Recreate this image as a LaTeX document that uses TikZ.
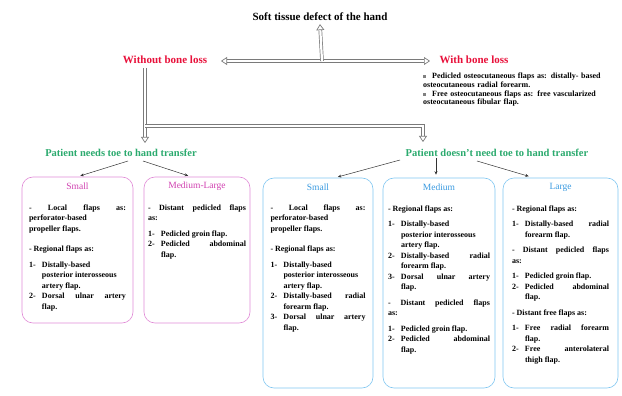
\documentclass[tikz,border=0pt]{standalone}
\usepackage{fontspec}
\setmainfont{Liberation Serif}
\usetikzlibrary{arrows.meta,calc}
\definecolor{lossred}{HTML}{E8103A}
\definecolor{needgreen}{HTML}{2BAA6E}
\definecolor{pinkline}{HTML}{E08AD6}
\definecolor{pinktitle}{HTML}{D040B0}
\definecolor{blueline}{HTML}{80C6F0}
\definecolor{bluetitle}{HTML}{3A9AE0}
\definecolor{hollowgray}{HTML}{7A7A7A}
\newcommand{\bx}[1]{\par\vspace{5pt}\noindent -\ #1\par\vspace{5pt}}
\newcommand{\nx}[2]{\par\hangindent=13pt\hangafter=1\noindent\makebox[13pt][l]{#1-}#2\par}
\newcommand{\sqb}{\textcolor{gray}{\rule[0.8pt]{2.6pt}{2.6pt}}}
\tikzset{
  hollow/.style={draw=hollowgray, line width=0.7pt, double=white, double distance=2.2pt},
  htip/.tip={Triangle[open,length=6pt,width=8pt]},
  thin arrow/.style={draw=black!80, line width=0.5pt, -{Stealth[length=3.5pt,width=3pt]}},
  pinkbox/.style={draw=pinkline, line width=0.6pt, rounded corners=11pt, minimum width=#1, minimum height=146pt, inner sep=0pt},
  bluebox/.style={draw=blueline, line width=0.6pt, rounded corners=11pt, minimum width=#1, minimum height=210pt, inner sep=0pt},
  boxtext/.style={text width=#1, align=justify, inner sep=0pt, anchor=north, font=\fontsize{8}{10.5}\selectfont\bfseries},
  boxtitle/.style={font=\fontsize{9.5}{11}\selectfont, inner sep=0pt},
  redlabel/.style={text=lossred, font=\fontsize{11}{13}\selectfont\bfseries, inner sep=1pt},
  greenlabel/.style={text=needgreen, font=\fontsize{10.5}{12}\selectfont\bfseries, inner sep=1pt},
}
\begin{document}
\begin{tikzpicture}[x=1pt,y=-1pt]
\useasboundingbox (0,0) rectangle (622,396);
% top level
\node[font=\fontsize{11}{13}\selectfont\bfseries, inner sep=1pt] (title) at (320,17) {Soft tissue defect of the hand};
\node[redlabel] (wo) at (165,60) {Without bone loss};
\node[redlabel] (wi) at (474,60) {With bone loss};
\coordinate (hl) at (221,61);
\coordinate (hr) at (430,61);
\coordinate (hm) at (322,61);
\draw[hollow, {htip}-{htip}] (hl) -- (hr);
\draw[hollow, -{htip}] (hm) -- ([yshift=-2pt]title.south);
% with bone loss bullets
\node[anchor=north west, text width=195pt, align=left, inner sep=0pt, font=\fontsize{8}{8.2}\selectfont\bfseries] (wit) at (423,73) {%
\hangindent=9pt\hangafter=1\noindent\makebox[9pt][l]{\sqb}Pedicled osteocutaneous flaps as: distally- based\\osteocutaneous radial forearm.\par\vspace{1.5pt}
\hangindent=9pt\hangafter=1\noindent\makebox[9pt][l]{\sqb}Free osteocutaneous flaps as: free vascularized\\osteocutaneous fibular flap.\par};
% second level labels
\node[greenlabel] (pn) at (121,153) {Patient needs toe to hand transfer};
\node[greenlabel] (pd) at (497,153) {Patient doesn't need toe to hand transfer};
\coordinate (vt) at (145,68);
\coordinate (vb) at (145,143);
\coordinate (hj) at (145,126);
\coordinate (hk) at (423,126);
\coordinate (rb) at (423,142);
\draw[hollow, -{htip}] (vt) -- (vb);
\draw[hollow, -{htip}] (hj) -- (hk) -- (rb);
% boxes
\node[pinkbox=111pt] (ls) at (77.5,250) {};
\node[pinkbox=106pt] (lm) at (197,250) {};
\node[bluebox=110pt] (rs) at (318,283) {};
\node[bluebox=112pt] (rm) at (439,283) {};
\node[bluebox=115pt] (rl) at (560.5,283) {};
% thin arrows
\coordinate (a1) at (128,161);
\coordinate (a2) at (143,161);
\coordinate (a3) at (400,160);
\coordinate (a4) at (436,158);
\coordinate (a5) at (477,161);
\draw[thin arrow, shorten >=3pt] (a1) -- (ls.north);
\draw[thin arrow, shorten >=3pt] (a2) -- ([xshift=-6pt]lm.north);
\draw[thin arrow, shorten >=3pt] (a3) -- ([xshift=17pt]rs.north);
\draw[thin arrow, shorten >=3pt] (a4) -- ([xshift=-3pt]rm.north);
\draw[thin arrow, shorten >=5pt] (a5) -- ([xshift=-27pt]rl.north);
% titles
\node[boxtitle, text=pinktitle] (lsh) at ([yshift=-10pt]ls.north) {Small};
\node[boxtitle, text=pinktitle] (lmh) at ([yshift=-10pt]lm.north) {Medium-Large};
\node[boxtitle, text=bluetitle] (rsh) at ([yshift=-10pt]rs.north) {Small};
\node[boxtitle, text=bluetitle] (rmh) at ([yshift=-10pt]rm.north) {Medium};
\node[boxtitle, text=bluetitle] (rlh) at ([yshift=-10pt]rl.north) {Large};
% contents
\node[boxtext=97pt] (lst) at ([yshift=-18pt]ls.north) {%
\bx{Local flaps as:\linebreak perforator-based\\propeller flaps.}
\bx{Regional flaps as:}
\nx{1}{Distally-based\\posterior interosseous\\artery flap.}
\nx{2}{Dorsal ulnar artery\linebreak flap.}};
\node[boxtext=98pt] (lmt) at ([yshift=-18pt]lm.north) {%
\bx{Distant pedicled flaps\linebreak as:}
\nx{1}{Pedicled groin flap.}
\nx{2}{Pedicled abdominal\linebreak flap.}};
\node[boxtext=95pt] (rst) at ([yshift=-17pt]rs.north) {%
\bx{Local flaps as:\linebreak perforator-based\\propeller flaps.}
\bx{Regional flaps as:}
\nx{1}{Distally-based\\posterior interosseous\\artery flap.}
\nx{2}{Distally-based radial\linebreak forearm flap.}
\nx{3}{Dorsal ulnar artery\linebreak flap.}};
\node[boxtext=102pt] (rmt) at ([yshift=-18pt]rm.north) {%
\bx{Regional flaps as:}
\nx{1}{Distally-based\\posterior interosseous\\artery flap.}
\nx{2}{Distally-based radial\linebreak forearm flap.}
\nx{3}{Dorsal ulnar artery\linebreak flap.}
\bx{Distant pedicled flaps\linebreak as:}
\nx{1}{Pedicled groin flap.}
\nx{2}{Pedicled abdominal\linebreak flap.}};
\node[boxtext=97pt] (rlt) at ([yshift=-18pt]rl.north) {%
\bx{Regional flaps as:}
\nx{1}{Distally-based radial\linebreak forearm flap.}
\bx{Distant pedicled flaps\linebreak as:}
\nx{1}{Pedicled groin flap.}
\nx{2}{Pedicled abdominal\linebreak flap.}
\bx{Distant free flaps as:}
\nx{1}{Free radial forearm\linebreak flap.}
\nx{2}{Free anterolateral\linebreak thigh flap.}};
\end{tikzpicture}
\end{document}
